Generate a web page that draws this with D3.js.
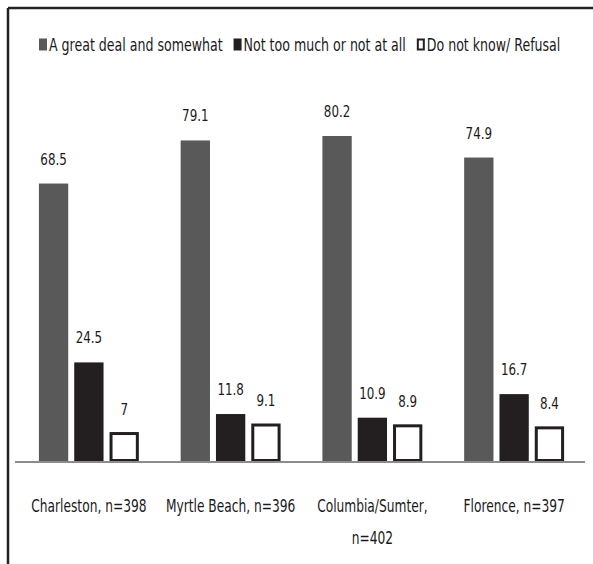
<!DOCTYPE html>
<html>
<head>
<meta charset="utf-8">
<script src="https://cdn.jsdelivr.net/npm/d3@7/dist/d3.min.js"></script>
<style>
  html, body { margin: 0; padding: 0; background: #fff; }
  svg { display: block; }
  text { font-family: "Liberation Sans Narrow", "DejaVu Sans Condensed", "Arial Narrow", sans-serif; fill: #1a1a1a; }
</style>
</head>
<body>
<svg id="chart" width="593" height="564"></svg>
<script>
// Regions surveyed, with the sample size of each
const regions = ["Charleston, n=398", "Myrtle Beach, n=396", "Columbia/Sumter, n=402", "Florence, n=397"];
// Answer categories
const answers = ["A great deal and somewhat", "Not too much or not at all", "Do not know/ Refusal"];
// Percentages per region, one array per answer
const greatDealSomewhat = [68.5, 79.1, 80.2, 74.9];
const notMuchNotAtAll   = [24.5, 11.8, 10.9, 16.7];
const dontKnowRefusal   = [7, 9.1, 8.9, 8.4];

const seriesValues = [greatDealSomewhat, notMuchNotAtAll, dontKnowRefusal];
const fills   = ["#595959", "#231f20", "#ffffff"];
const strokes = ["none", "none", "#231f20"];

const svg = d3.select("#chart");
const W = 593, H = 564;
const baseY = 462;
const SQUEEZE = 0.8;   // horizontal compression that gives the narrow lettering

// Text placed at (x, y) and narrowed horizontally around its anchor
function narrowText(parent, x, y, size, anchor) {
  return parent.append("text")
    .attr("transform", `translate(${x},${y}) scale(${SQUEEZE},1)`)
    .attr("font-size", size)
    .attr("text-anchor", anchor);
}

// Frame edges
svg.append("line").attr("x1", 8).attr("x2", W).attr("y1", 8).attr("y2", 8)
  .attr("stroke", "#222").attr("stroke-width", 2.5);
svg.append("line").attr("x1", 8).attr("x2", 8).attr("y1", 8).attr("y2", H)
  .attr("stroke", "#222").attr("stroke-width", 2.5);

const x0 = d3.scaleBand().domain(regions).range([18, 585])
  .paddingInner(0.295).paddingOuter(0.1475);
const x1 = d3.scaleBand().domain(d3.range(answers.length)).range([0, x0.bandwidth()])
  .paddingInner(0.17);
const y = d3.scaleLinear().domain([0, 100]).range([baseY, 55.5]);

const rows = regions.map((r, i) => ({
  region: r,
  vals: seriesValues.map((s, k) => ({ k, v: s[i] }))
}));

const groups = svg.selectAll("g.region").data(rows).join("g")
  .attr("class", "region")
  .attr("transform", d => `translate(${x0(d.region)},0)`);

groups.selectAll("rect").data(d => d.vals).join("rect")
  .attr("x", d => x1(d.k) + (d.k === 2 ? 1.5 : 0))
  .attr("width", d => x1.bandwidth() - (d.k === 2 ? 3 : 0))
  .attr("y", d => y(d.v))
  .attr("height", d => baseY - y(d.v) - (d.k === 2 ? 1.5 : 0))
  .attr("fill", d => fills[d.k])
  .attr("stroke", d => strokes[d.k])
  .attr("stroke-width", 3);

groups.each(function (d) {
  const g = d3.select(this);
  d.vals.forEach(p => {
    narrowText(g, x1(p.k) + x1.bandwidth() / 2, y(p.v) - 19, 16.5, "middle").text(String(p.v));
  });
});

// Category axis line
svg.append("line").attr("x1", 15).attr("x2", 585).attr("y1", baseY).attr("y2", baseY)
  .attr("stroke", "#8c8c8c").attr("stroke-width", 2);

// Category labels; a label too wide for its slot wraps after the comma
const maxLabelW = 140;
regions.forEach(r => {
  const cx = x0(r) + x0.bandwidth() / 2;
  const t = narrowText(svg, cx, 512, 17, "middle").text(r);
  if (t.node().getComputedTextLength() * SQUEEZE > maxLabelW) {
    const parts = r.split(", ");
    t.text(null);
    parts.forEach((p, i) => {
      t.append("tspan").attr("x", 0).attr("dy", i === 0 ? 0 : 32)
        .text(i < parts.length - 1 ? p + "," : p);
    });
  }
});

// Legend
const legend = svg.append("g");
let lx = 39;
answers.forEach((a, k) => {
  const sq = k === 2 ? { x: lx + 1, w: 6, h: 10, y: 39.5 } : { x: lx, w: 8, h: 12, y: 38.5 };
  legend.append("rect").attr("x", sq.x).attr("y", sq.y).attr("width", sq.w).attr("height", sq.h)
    .attr("fill", fills[k]).attr("stroke", k === 2 ? "#231f20" : "none").attr("stroke-width", 2);
  const t = narrowText(legend, lx + 10, 51, 17.5, "start").text(a);
  lx += 10 + t.node().getComputedTextLength() * SQUEEZE + 11;
});
</script>
</body>
</html>
